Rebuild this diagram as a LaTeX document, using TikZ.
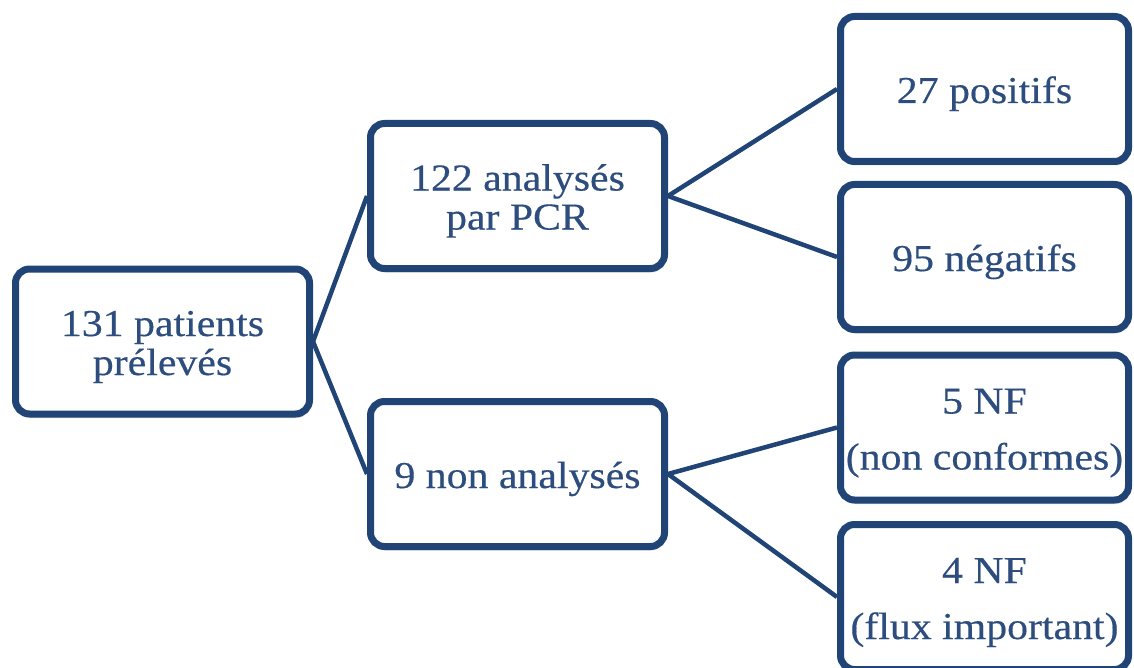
\documentclass[tikz,border=0pt]{standalone}
\usepackage{fontspec}
\setmainfont{Liberation Serif}[FakeStretch=1.1, FakeBold=0.4]
\usetikzlibrary{shadows,backgrounds}
\definecolor{boxblue}{RGB}{31,68,117}
\definecolor{textblue}{RGB}{44,77,125}
% fixed top and bottom extent of a box's text block
\newcommand\firstlinestrut{\rule{0pt}{37pt}}
\newcommand\lastlinestrut{\rule[-9pt]{0pt}{9pt}}
\newcommand\oneline[1]{\firstlinestrut#1\lastlinestrut}
\newcommand\twolines[2]{\firstlinestrut#1\\#2\lastlinestrut}
\begin{document}
\begin{tikzpicture}[x=1pt,y=-1pt,
  card/.style={draw=boxblue, line width=7pt, rounded corners=14pt, fill=white,
    minimum width=294pt, minimum height=145pt, align=center, text=textblue,
    inner sep=0pt, font=\fontsize{38}{39}\selectfont,
    drop shadow={shadow xshift=1pt, shadow yshift=-4pt, opacity=0.22, fill=black!60}},
  leaf/.style={card, minimum width=288pt},
  wide/.style={font=\fontsize{38}{56}\selectfont},
  link/.style={draw=boxblue, line width=4.5pt}]
  \useasboundingbox (0,0) rectangle (1134,668);
  \clip (0,0) rectangle (1134,668);

  % boxes
  \node[card] (root) at (162.5,341.5) {\twolines{131 patients}{prélevés}};
  \node[card] (pcr)  at (517.5,196)   {\twolines{122 analysés}{par PCR}};
  \node[card] (non)  at (517.5,474)   {\oneline{9 non analysés}};
  \node[leaf] (pos)  at (984.5,89)    {\oneline{27 positifs}};
  \node[leaf] (neg)  at (984.5,257)   {\oneline{95 négatifs}};
  \node[leaf,wide] (nc) at (984.5,427.5) {\twolines{5 NF}{(non conformes)}};
  \node[leaf,wide] (fx) at (984.5,597)   {\twolines{4 NF}{(flux important)}};

  % white page and connectors behind the boxes
  \begin{scope}[on background layer]
    \fill[white] (0,0) rectangle (1134,668);
    \draw[link] (root.east) -- (pcr.west);
    \draw[link] (root.east) -- (non.west);
    \draw[link] (pcr.east) -- (pos.west);
    \draw[link] (pcr.east) -- (neg.west);
    \draw[link] (non.east) -- (nc.west);
    \draw[link] (non.east) -- (fx.west);
  \end{scope}
\end{tikzpicture}
\end{document}
